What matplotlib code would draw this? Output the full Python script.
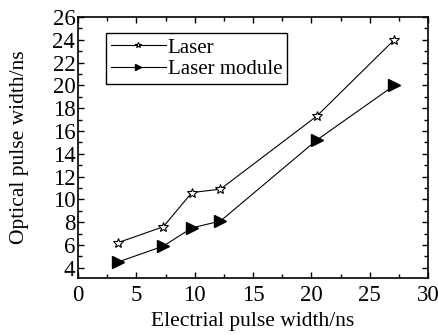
import numpy as np
import matplotlib.pyplot as plt
from matplotlib.ticker import MultipleLocator

# values
elec_width = [3.4, 7.3, 9.75, 12.2, 20.45, 27.1]
laser = [6.2, 7.6, 10.6, 10.9, 17.3, 24.0]
laser_module = [4.5, 5.9, 7.5, 8.1, 15.2, 20.0]

plt.rcParams['font.family'] = ['Liberation Serif', 'DejaVu Serif']

fig = plt.figure(figsize=(4.39, 3.35), dpi=100)
ax = fig.add_axes([0.178, 0.170, 0.797, 0.779])

ax.plot(elec_width, laser, color='black', lw=0.8, marker='*', ms=7,
        mfc='white', mec='black', mew=0.8, label='Laser')
ax.plot(elec_width, laser_module, color='black', lw=0.8, marker='>', ms=8,
        mfc='black', mec='black', label='Laser module')

ax.set_xlim(0, 30)
ax.set_ylim(3.1, 26)
ax.xaxis.set_major_locator(MultipleLocator(5))
ax.xaxis.set_minor_locator(MultipleLocator(2.5))
ax.yaxis.set_major_locator(MultipleLocator(2))
ax.yaxis.set_minor_locator(MultipleLocator(1))
ax.set_yticks(np.arange(4, 27, 2))

ax.tick_params(which='both', direction='in', top=True, right=True,
               width=1, labelsize=16.5)
ax.tick_params(axis='y', pad=2)
ax.tick_params(axis='x', pad=5)
ax.tick_params(which='major', length=4)
ax.tick_params(which='minor', length=3)
for s in ax.spines.values():
    s.set_linewidth(1.2)

ax.set_xlabel('Electrial pulse width/ns', fontsize=15.5, labelpad=4)
ax.set_ylabel('Optical pulse width/ns', fontsize=15.5, labelpad=17)

leg = ax.legend(loc='upper left', bbox_to_anchor=(0.08, 0.94), fontsize=15,
                handlelength=2.6, handletextpad=0.1, borderpad=0.25,
                labelspacing=0.1, fancybox=False, framealpha=1,
                borderaxespad=0, markerscale=0.6)
leg.get_frame().set_edgecolor('black')
leg.get_frame().set_linewidth(1)

fig.savefig('out.png', dpi=100)
